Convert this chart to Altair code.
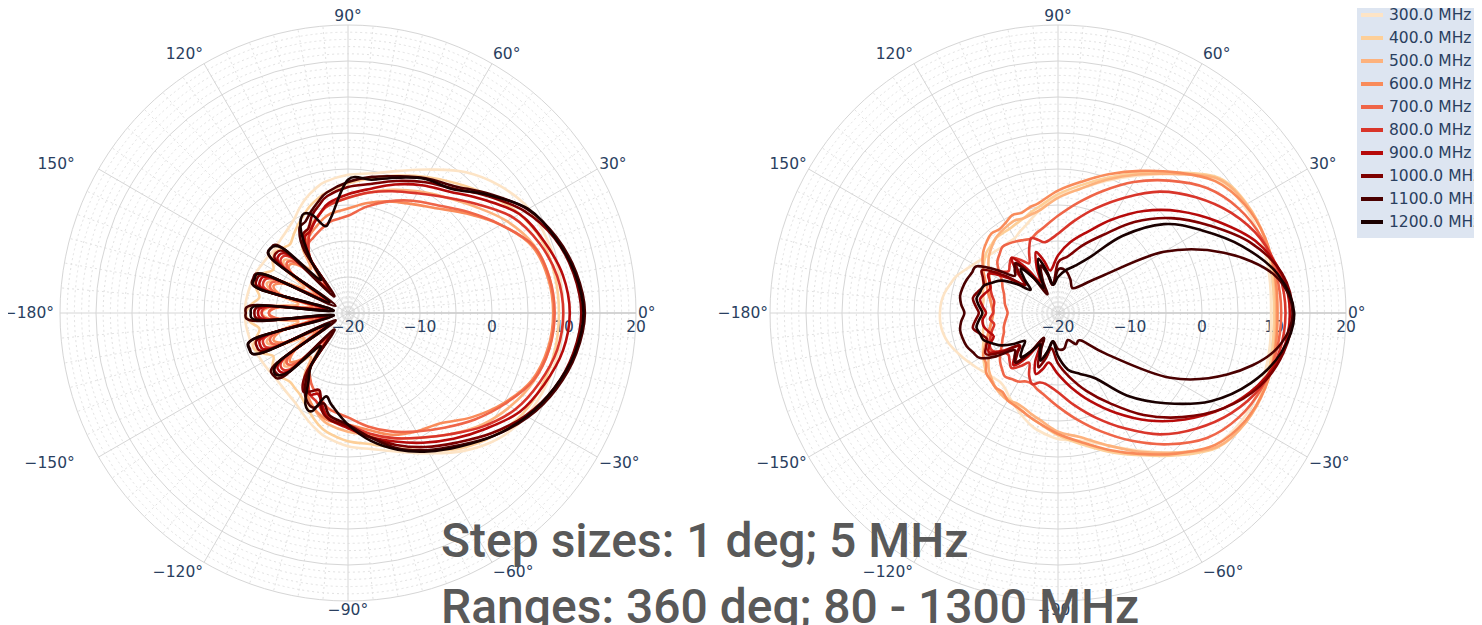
import math
import altair as alt
import pandas as pd

# ---------------- data ----------------
# sample angles (deg): 5-deg steps in the back, 10-deg steps in the front
ANGLES = ([-180, -175, -170, -165, -160, -155, -150, -145, -140, -135, -130, -125, -120, -115, -110, -105, -100]
          + [-90, -80, -70, -60, -50, -40, -30, -20, -10, 0, 10, 20, 30, 40, 50, 60, 70, 80, 90]
          + [100, 105, 110, 115, 120, 125, 130, 135, 140, 145, 150, 155, 160, 165, 170, 175])
FREQS = ["300.0 MHz", "400.0 MHz", "500.0 MHz", "600.0 MHz", "700.0 MHz",
         "800.0 MHz", "900.0 MHz", "1000.0 MHz", "1100.0 MHz", "1200.0 MHz"]
COLORS = ["#fde4c6", "#fdcf98", "#fdb27d", "#f98b5a", "#ef6548",
          "#d9352a", "#b60a0a", "#7d0000", "#4a0000", "#1a0000"]

# ---- left panel gain (dB) at ANGLES ----
L300 = [-5.7, -5.7, -5.8, -5.9, -6.0, -6.2, -6.3, -6.4, -6.5, -6.4, -6.2, -5.9, -5.5, -4.8, -4.0, -3.2, -2.5,
        -1.5, -0.8, 0.5, 2.5, 5.0, 7.2, 8.6, 9.3, 9.7, 9.9, 9.8, 9.5, 9.0, 7.5, 5.5, 3.0, 1.0, -0.3, -0.8,
        -1.5, -2.2, -3.0, -4.0, -5.0, -5.6, -6.0, -6.3, -6.5, -6.4, -6.3, -6.1, -6.0, -5.9, -5.8, -5.7]
L400 = [-5.8, -6.3, -7.5, -6.8, -6.0, -6.8, -8.0, -7.2, -6.8, -7.2, -7.5, -7.2, -6.8, -6.0, -5.0, -4.0, -3.2,
        -2.2, -1.5, 0.0, 2.0, 4.5, 6.5, 8.0, 8.8, 9.2, 9.3, 9.2, 8.8, 7.5, 5.5, 3.5, 1.8, 0.3, -1.0, -2.0,
        -3.0, -3.6, -4.3, -5.2, -6.0, -6.8, -7.5, -7.2, -6.8, -7.2, -8.0, -7.0, -6.2, -6.8, -7.5, -6.5]
L500 = [-8.0, -9.5, -13, -9.5, -8.0, -9.5, -13, -10, -8.5, -10, -12, -9.5, -8.0, -7.0, -6.0, -5.0, -4.3,
        -3.5, -2.8, -1.5, 0.0, 2.0, 4.2, 6.0, 7.5, 8.4, 8.6, 8.4, 7.5, 5.5, 3.0, 1.0, -0.5, -1.8, -3.0, -4.0,
        -4.8, -5.5, -6.3, -7.0, -7.8, -9.0, -12, -10, -8.5, -9.5, -13, -9.5, -8.0, -9.5, -13, -9.5]
L600 = [-9, -10.5, -15, -10.5, -9, -10.5, -15, -11, -9.5, -11, -14, -10, -8, -7, -6, -5.3, -4.8,
        -4.5, -3.5, -2.0, -1.0, 0.0, 2.5, 5.0, 7.2, 8.2, 8.5, 8.2, 7.2, 4.5, 1.5, -1.0, -2.5, -3.5, -4.5, -5.5,
        -6.0, -6.5, -7.2, -7.8, -8.5, -10, -14, -11, -9.5, -10.5, -15, -10.5, -9, -10.5, -15, -10.5]
L700 = [-9, -10.5, -16, -10, -8.5, -10, -16, -10.5, -9, -10.5, -15, -11, -9.5, -8.5, -8, -7, -6.3,
        -5.5, -4.0, -2.5, -1.0, 0.8, 3.0, 5.2, 7.4, 8.4, 8.7, 8.4, 7.4, 4.5, 1.8, -0.5, -2.0, -3.5, -5.0, -6.5,
        -7.0, -7.5, -8.0, -8.5, -9.0, -11, -15, -10.5, -9, -10.5, -16, -10, -8.5, -10, -16, -10.5]
L800 = [-8, -9.5, -17, -9, -7.5, -9, -17, -9.5, -8, -9.5, -16, -11, -9, -7.5, -7, -6, -5.3,
        -4.5, -3.0, -1.5, 0.0, 2.0, 4.5, 6.8, 8.3, 9.5, 9.9, 9.5, 8.3, 6.5, 3.5, 1.0, -0.8, -2.0, -3.0, -4.0,
        -4.8, -5.5, -6.5, -7.5, -9.0, -11, -16, -9.5, -8, -9.5, -17, -9, -7.5, -9, -17, -9.5]
L900 = [-7.5, -9, -17, -8.5, -7, -8.5, -17, -9, -7.5, -9, -16, -11, -8.5, -7.5, -8, -6.5, -5.0,
        -4.0, -2.5, -1.0, 0.8, 2.8, 5.0, 7.5, 9.0, 10.3, 10.8, 10.3, 9.0, 7.5, 4.5, 2.0, 0.5, -1.0, -2.5, -3.5,
        -4.5, -5.5, -6.5, -7.5, -8.0, -11, -16, -9, -7.5, -9, -17, -8.5, -7, -8.5, -17, -9]
L1000 = [-7, -8.5, -17, -8, -6.5, -8, -17, -8.5, -7, -8.5, -16, -10, -7.5, -8, -8.5, -6, -5,
         -4.2, -2.5, -0.5, 1.5, 3.5, 6.0, 8.5, 10.5, 11.8, 12.4, 11.8, 10.5, 8.3, 5.3, 2.6, 1.0, -0.5, -1.8, -2.5,
         -3.5, -4.5, -5.5, -7.0, -7.5, -10, -16, -8.5, -7, -8.5, -17, -8, -6.5, -8, -17, -8.5]
L1100 = [-5.8, -7.3, -18, -7, -5.5, -7, -18, -8, -6.5, -8, -17, -11, -8, -6.5, -6, -7, -5.5,
         -4.5, -2.5, 0.0, 2.0, 4.0, 6.5, 8.9, 10.8, 12.2, 12.9, 12.2, 10.8, 8.8, 5.7, 3.0, 1.6, 0.2, -0.8, -1.8,
         -3.0, -4.0, -5.0, -6.0, -6.5, -9.5, -17, -7.5, -6, -7.5, -18, -7.5, -6, -7.5, -18, -7.3]
L1200 = [-6.5, -8, -18, -7, -5.4, -7, -17, -8.5, -6.8, -8.5, -14, -11, -9, -6, -5.5, -8, -7,
         -4.5, -2.0, 0.2, 2.2, 4.2, 6.5, 8.7, 10.5, 12.0, 12.7, 12.0, 10.6, 8.9, 5.5, 2.5, 1.5, 0.0, -1.2, -1.5,
         -6.5, -7.5, -5.5, -5.0, -7.0, -11, -14, -7.5, -6.0, -7.5, -17, -7.5, -6.2, -7.5, -18, -8]

# ---- right panel gain (dB) at ANGLES ----
R300 = [-3.6, -3.6, -3.8, -4.2, -4.8, -5.4, -6.0, -6.5, -7.0, -7.3, -7.5, -7.2, -6.5, -5.8, -5.0, -4.2, -3.5,
        -2.5, -2.0, -0.5, 2.0, 5.3, 8.5, 9.6, 9.9, 9.8, 9.6, 9.8, 10.0, 9.8, 8.8, 5.2, 2.0, -0.5, -2.5, -3.8,
        -5.5, -6.3, -7.0, -7.5, -8.0, -8.0, -8.0, -7.8, -7.5, -7.0, -6.5, -5.8, -5.0, -4.5, -4.0, -3.7]
R400 = [-9.5, -9.5, -9.5, -9.2, -9, -8.5, -8, -7.5, -7, -6.8, -6.5, -6.3, -6.2, -6.0, -5.5, -5.0, -4.5,
        -3.0, -1.5, 0.5, 2.8, 5.8, 9.0, 10.2, 10.4, 10.2, 10.0, 10.2, 10.5, 10.3, 9.2, 5.5, 2.5, 0.0, -2.0, -3.5,
        -5.0, -5.5, -6.0, -6.3, -6.5, -6.5, -6.5, -6.8, -7.0, -7.5, -8.0, -8.5, -9.0, -9.2, -9.5, -9.5]
R500 = [-11, -10.8, -10.5, -10.2, -10, -9.5, -9, -8.2, -7.5, -7.0, -6.5, -6.2, -6, -6.2, -6, -5.5, -5.0,
        -3.5, -2.5, -0.5, 2.2, 5.3, 8.9, 10.2, 10.6, 10.5, 10.3, 10.5, 10.6, 10.2, 9.0, 5.2, 2.2, -0.3, -2.5, -4.0,
        -5.5, -5.8, -6.0, -5.8, -6.0, -6.2, -6.5, -7.0, -7.5, -8.2, -9.0, -9.5, -10.0, -10.2, -10.5, -10.8]
R600 = [-11, -10.8, -10.5, -10, -9.5, -8.8, -8, -7.8, -7, -6.8, -6.5, -6.6, -6, -5.8, -5.5, -5.0, -4.5,
        -3.2, -1.8, 0.2, 2.6, 5.5, 8.5, 10.0, 10.6, 10.6, 10.5, 10.6, 10.6, 10.0, 8.5, 5.5, 2.8, 0.5, -1.5, -3.0,
        -4.5, -4.8, -5.2, -5.0, -5.5, -5.8, -5.6, -6.0, -6.5, -7.2, -8.0, -8.8, -9.5, -10.0, -10.5, -10.8]
R700 = [-13, -12.8, -12.5, -12.2, -12, -11.5, -11, -10.2, -9.5, -9.0, -8.5, -8.8, -9, -9.5, -9.5, -9.0, -8.5,
        -7.0, -5.0, -2.5, 0.5, 3.8, 7.0, 9.0, 10.2, 10.8, 11.0, 10.8, 10.2, 9.0, 7.0, 4.0, 1.0, -2.0, -4.5, -6.5,
        -8.0, -8.5, -9.0, -8.8, -8.5, -8.2, -8.0, -8.5, -9.0, -10, -11.0, -11.5, -12.0, -12.3, -12.5, -12.8]
R800 = [-11, -10.5, -11, -10.5, -10, -9.5, -9.5, -10.5, -11, -10.5, -10, -11, -12, -10.5, -9.5, -10, -10,
        -9, -7, -4.5, -1.5, 2.0, 5.0, 7.8, 10.0, 11.2, 11.6, 11.2, 10.0, 7.8, 5.0, 2.0, -1.5, -4.5, -7.0, -9.0,
        -10.0, -9.5, -9.0, -10.5, -12.0, -11, -10.0, -10.5, -11.0, -10, -9.0, -9.5, -10.0, -10.5, -11.0, -11]
R900 = [-10, -9.5, -9.5, -10, -10.5, -9.5, -9, -11, -13, -11.5, -10.5, -12.5, -15, -12.5, -11, -12, -13,
        -11.5, -9.5, -7, -4, -0.5, 3.0, 6.5, 9.5, 11.6, 12.2, 11.5, 9.2, 5.5, 2.0, -1.5, -5.0, -8.0, -10.0, -12.0,
        -14.0, -12.5, -11.0, -13, -15.0, -12.5, -10.0, -12, -14.0, -11.5, -9.0, -9.5, -10.0, -9.5, -9.0, -9.5]
R1000 = [-9, -8.5, -8, -8.8, -9.5, -9, -8.5, -10.5, -13, -12, -11, -13.5, -16, -14, -12, -13.5, -15,
         -13, -11, -8.5, -5.5, -1.5, 2.5, 6.5, 9.8, 11.8, 12.6, 11.6, 8.5, 4.3, 0.5, -3.5, -7.5, -10.0, -12.0, -13.0,
         -16.0, -14, -12.0, -14, -16.0, -13.5, -11.0, -12.5, -14.0, -11, -8.0, -8.5, -9.0, -8.5, -8.0, -8.5]
R1100 = [-7, -6.5, -6.2, -6.3, -6.5, -7, -7.5, -9.5, -12, -11.5, -11, -13.5, -16, -14.5, -13, -14.5, -16,
         -15, -15, -16, -15, -15, -11, -2.0, 5.0, 10.5, 12.6, 10.5, 4.5, -3.0, -12, -15, -16, -15, -14, -14,
         -16, -14.5, -13, -15, -17, -14, -11, -11.5, -12, -9.5, -7, -6.8, -6.5, -6.3, -6.2, -6.5]
R1200 = [-9.5, -9, -8.5, -8.8, -9, -10, -11, -12.5, -14, -13, -12, -13.5, -15, -14, -13, -14.5, -16,
         -14, -12, -11, -9.5, -5, -0.5, 4.5, 8.5, 11.5, 12.8, 11.0, 7.2, 3.0, -0.8, -6.0, -11, -13, -14, -15,
         -16, -14, -12, -14, -16, -14, -12, -13.5, -15, -13, -11, -10, -9, -8.8, -8.5, -9]

LEFT = [L300, L400, L500, L600, L700, L800, L900, L1000, L1100, L1200]
RIGHT = [R300, R400, R500, R600, R700, R800, R900, R1000, R1100, R1200]

R_RANGE = [-20, 20]
RADIAL_TICKS = [-20, -10, 0, 10, 20]
ANGULAR_TICKS = [-180, -150, -120, -90, -60, -30, 0, 30, 60, 90, 120, 150]
LINE1 = "Step sizes: 1 deg; 5 MHz"
LINE2 = "Ranges: 360 deg; 80 - 1300 MHz"

# ---------------- layout ----------------
W, H = 1466, 617
K = 7.2                     # pixels per dB
CENTERS_PX = [340, 1050]
CY_PX = 305
TXT = "#2a3f5f"
FONT = "DejaVu Sans"
FS = 15.5
# extra horizontal nudge (px) of some angular labels of the left panel
LEFT_NUDGE = {150: -22, -150: -22, -180: -4}


def ux(px):
    return (px - CENTERS_PX[0]) / K


def uy(py):
    return (CY_PX - py) / K


XS = alt.Scale(domain=[ux(0), ux(W)], nice=False, zero=False)
YS = alt.Scale(domain=[uy(H), uy(0)], nice=False, zero=False)
X = alt.X("x:Q", scale=XS, axis=None)
Y = alt.Y("y:Q", scale=YS, axis=None)
CX = [ux(c) for c in CENTERS_PX]
SPAN = R_RANGE[1] - R_RANGE[0]

# curves
rows = []
for p, panel in enumerate([LEFT, RIGHT]):
    for f, vals in zip(FREQS, panel):
        assert len(vals) == len(ANGLES), (f, p, len(vals))
        for i, (a, v) in enumerate(zip(ANGLES, vals)):
            d = v - R_RANGE[0]
            t = math.radians(a)
            rows.append(dict(panel=p, freq=f, idx=i,
                             x=CX[p] + d * math.cos(t), y=d * math.sin(t)))
curves_df = pd.DataFrame(rows)

# grid circles
circ = []
for p in range(2):
    for lvl in range(R_RANGE[0] + 1, R_RANGE[1] + 1):
        d = lvl - R_RANGE[0]
        circ.append(dict(x=CX[p], y=0.0, s=(2 * d * K) ** 2, major=(lvl % 5 == 0)))
circ_df = pd.DataFrame(circ)

# spokes
spk = []
for p in range(2):
    for a in range(0, 360, 5):
        t = math.radians(a)
        spk.append(dict(x=CX[p], y=0.0, x2=CX[p] + SPAN * math.cos(t),
                        y2=SPAN * math.sin(t), major=(a % 30 == 0)))
spk_df = pd.DataFrame(spk)

axis_df = pd.DataFrame([dict(x=c, y=0.0, x2=c + SPAN, y2=0.0) for c in CX])

# radial labels
rl = []
for p in range(2):
    for v in RADIAL_TICKS:
        rl.append(dict(x=CX[p] + (v - R_RANGE[0]), y=-14 / K,
                       text=str(v).replace("-", "\u2212")))
rl_df = pd.DataFrame(rl)

# angular labels
al = []
for p in range(2):
    for a in ANGULAR_TICKS:
        t = math.radians(a)
        c = math.cos(t)
        nudge = LEFT_NUDGE.get(a, 0) if p == 0 else 0
        ry = 297 if abs(c) < 0.01 else 299
        al.append(dict(x=CX[p] + (290 * c + nudge) / K, y=ry / K * math.sin(t),
                       text=f"{a}°".replace("-", "\u2212"),
                       side="l" if c > 0.01 else ("r" if c < -0.01 else "c")))
al_df = pd.DataFrame(al)

# legend
leg_bg = pd.DataFrame([dict(x=ux(1349), x2=ux(W), y=uy(-8), y2=uy(230))])
leg = pd.DataFrame([dict(freq=f, x=ux(1353), x2=ux(1375), xt=ux(1381),
                         y=uy(7 + 23 * i)) for i, f in enumerate(FREQS)])

big = pd.DataFrame([dict(x=ux(433), y=uy(549), text=LINE1),
                    dict(x=ux(433), y=uy(615), text=LINE2)])

color = alt.Color("freq:N", scale=alt.Scale(domain=FREQS, range=COLORS), legend=None)

minor_c = alt.Chart(circ_df).transform_filter("!datum.major").mark_point(
    shape="circle", filled=False, stroke="#e2e2e2", strokeWidth=1, strokeDash=[2, 3], opacity=1
).encode(x=X, y=Y, size=alt.Size("s:Q", scale=None, legend=None))
major_c = alt.Chart(circ_df).transform_filter("datum.major").mark_point(
    shape="circle", filled=False, stroke="#d6d6d6", strokeWidth=1, opacity=1
).encode(x=X, y=Y, size=alt.Size("s:Q", scale=None, legend=None))
minor_s = alt.Chart(spk_df).transform_filter("!datum.major").mark_rule(
    stroke="#e2e2e2", strokeWidth=1, strokeDash=[2, 3]
).encode(x=X, y=Y, x2="x2:Q", y2="y2:Q")
major_s = alt.Chart(spk_df).transform_filter("datum.major").mark_rule(
    stroke="#d6d6d6", strokeWidth=1
).encode(x=X, y=Y, x2="x2:Q", y2="y2:Q")
axis_l = alt.Chart(axis_df).mark_rule(stroke="#cdcdcd", strokeWidth=1.6).encode(
    x=X, y=Y, x2="x2:Q", y2="y2:Q")
rad_lbl = alt.Chart(rl_df).mark_text(
    font=FONT, fontSize=FS, color=TXT, align="center", baseline="middle"
).encode(x=X, y=Y, text="text:N")

lines = alt.Chart(curves_df).mark_line(
    interpolate="cardinal-closed", strokeWidth=2.6, strokeJoin="round"
).encode(x=X, y=Y, color=color, detail="panel:N", order="idx:Q")

ang_layers = []
for side, align in [("l", "left"), ("r", "right"), ("c", "center")]:
    ang_layers.append(
        alt.Chart(al_df).transform_filter(f"datum.side == '{side}'").mark_text(
            font=FONT, fontSize=FS, color=TXT, align=align, baseline="middle"
        ).encode(x=X, y=Y, text="text:N"))

leg_rect = alt.Chart(leg_bg).mark_rect(color="#dde5f1").encode(
    x=X, x2="x2:Q", y=Y, y2="y2:Q")
leg_lines = alt.Chart(leg).mark_rule(strokeWidth=4).encode(
    x=X, x2="x2:Q", y=Y, color=color)
leg_text = alt.Chart(leg).mark_text(
    font=FONT, fontSize=FS, color=TXT, align="left", baseline="middle"
).encode(x=alt.X("xt:Q", scale=XS, axis=None), y=Y, text="freq:N")

big_text = alt.Chart(big).mark_text(
    font="Roboto", fontSize=48, fontWeight=500, color="#595959",
    align="left", baseline="alphabetic"
).encode(x=X, y=Y, text="text:N")

chart = alt.layer(
    minor_c, minor_s, major_c, major_s, axis_l, rad_lbl, lines,
    *ang_layers, leg_rect, leg_lines, leg_text, big_text
).properties(
    width=W, height=H, padding=0, background="white",
    autosize=alt.AutoSizeParams(type="none")
).configure_view(stroke=None)

chart.save("out.html", embed_options={"renderer": "svg", "actions": False})
